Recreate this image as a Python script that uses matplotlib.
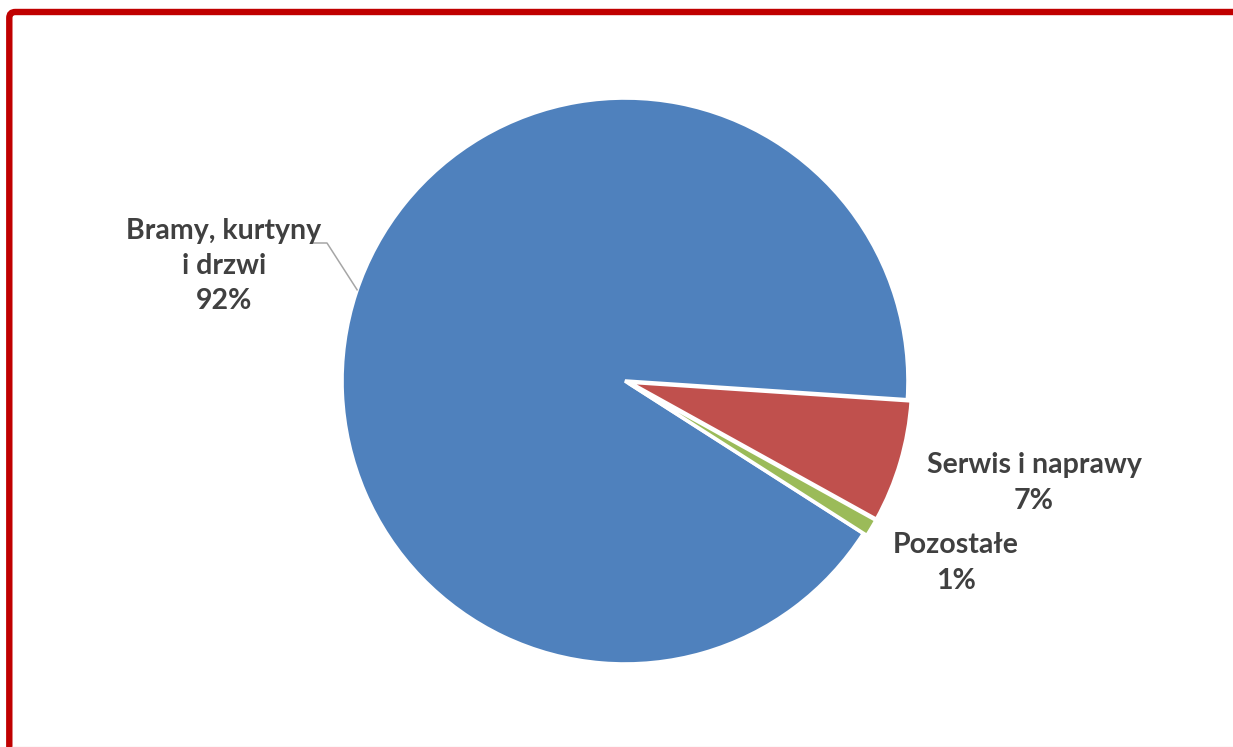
import numpy as np
import matplotlib.pyplot as plt
from matplotlib.patches import FancyBboxPatch

# data
labels = ["Bramy, kurtyny\ni drzwi", "Serwis i naprawy", "Pozostałe"]
shares = [92, 7, 1]
colors = ["#4F81BD", "#C0504D", "#9BBB59"]

W, H = 1233, 747
plt.rcParams['font.family'] = ['Lato', 'DejaVu Sans']

fig = plt.figure(figsize=(W / 100, H / 100), dpi=100)
ax = fig.add_axes([0, 0, 1, 1])

# pie in pixel-like coords (y up)
cx, cy, r = 625, H - 381, 283
explode = [0, 4, 4]
wedges, _ = ax.pie(shares, colors=colors, startangle=-32.6, counterclock=False,
                   explode=explode, radius=r, center=(cx, cy),
                   wedgeprops=dict(edgecolor='white', linewidth=2.6))

ax.set_xlim(0, W)
ax.set_ylim(0, H)
ax.axis('off')

# data labels
label_pos = [(224, 266), (1034, 483), (956, 563)]
for lab, s, (lx, ly) in zip(labels, shares, label_pos):
    ax.text(lx, H - ly, f"{lab}\n{s}%", ha='center', va='center',
            fontsize=20.5, fontweight='bold', color='#404040', linespacing=1.45)

# leader line for the big slice
ang = np.deg2rad(161.2)
ex, ey = cx + r * np.cos(ang), cy + r * np.sin(ang)
ax.plot([313, 327, ex], [H - 243, H - 243, ey], color='#A6A6A6', lw=1.1)

# red frame (cut at right / bottom)
frame = FancyBboxPatch((9.3, -40), W + 60, H - 12 + 40,
                       boxstyle="round,pad=0,rounding_size=6",
                       fill=False, edgecolor='#C00000', linewidth=4.6,
                       transform=ax.transData, clip_on=False)
ax.add_patch(frame)
ax.plot([12, W], [0.5, 0.5], color='#F6DCDC', lw=1)

fig.savefig("out.png", dpi=100, facecolor='white')
